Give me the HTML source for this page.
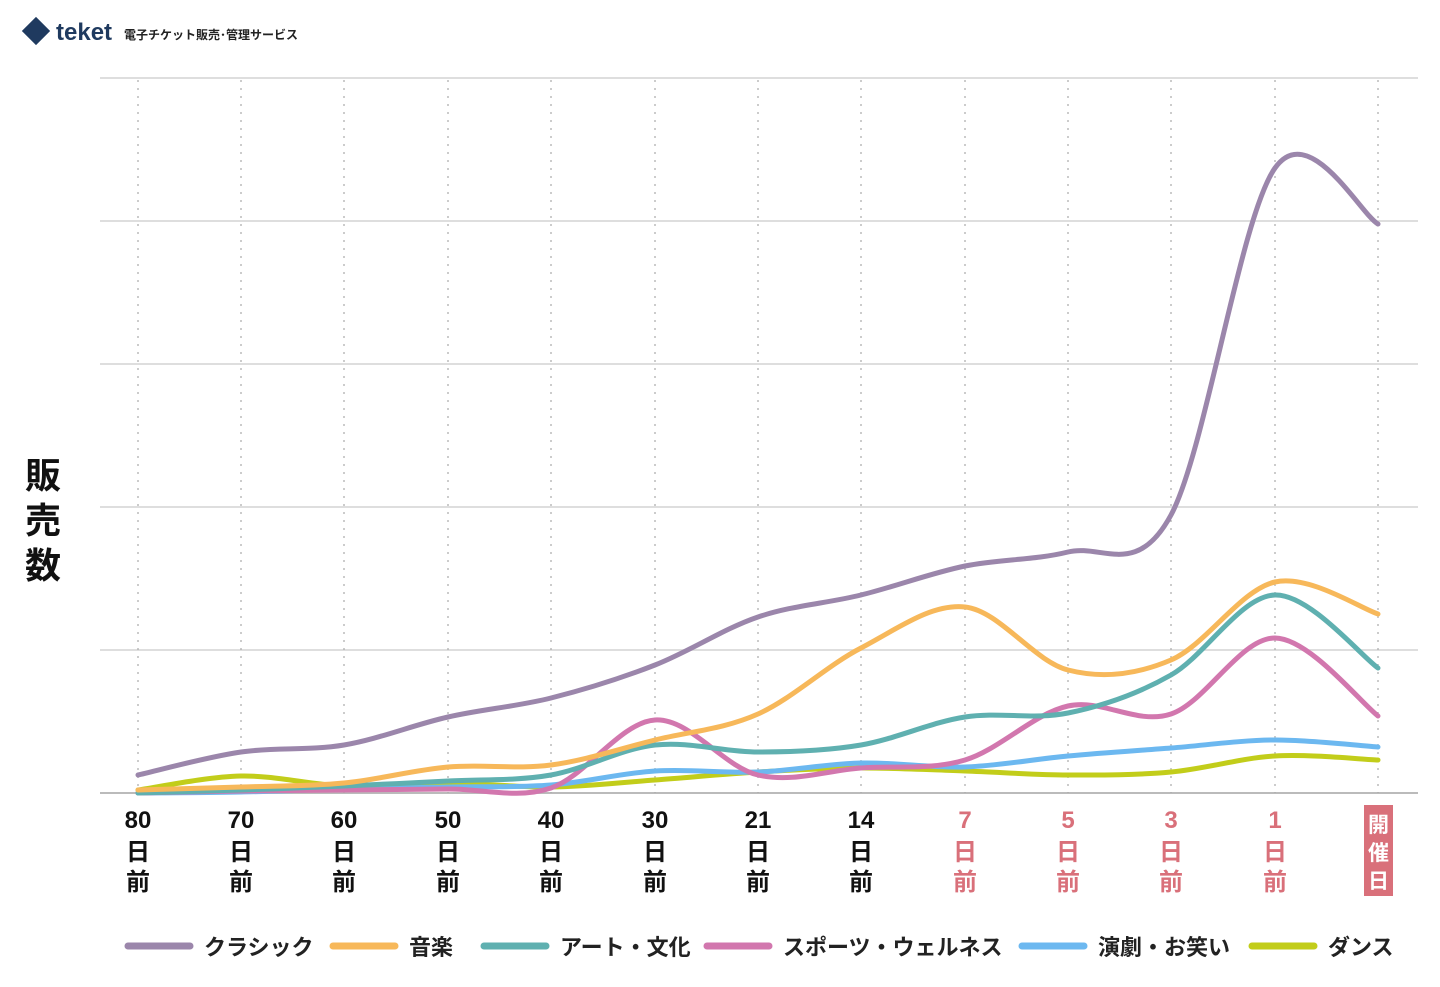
<!DOCTYPE html>
<html><head><meta charset="utf-8"><style>
body{margin:0;background:#fff;font-family:"Liberation Sans","Noto Sans CJK JP",sans-serif;}
</style></head><body>
<svg id="s" width="1440" height="982" xmlns="http://www.w3.org/2000/svg" font-family="Liberation Sans, Noto Sans CJK JP, sans-serif">
<g transform="translate(22,17)">
<rect x="4" y="4" width="20" height="20" fill="#1f3a5f" transform="rotate(45 14 14)"/>
<line x1="4" y1="22" x2="10" y2="28" stroke="#fff" stroke-width="2"/>
</g>
<text x="56" y="40" font-size="24" font-weight="bold" fill="#1f3a5f">teket</text>
<text x="124" y="39" font-size="12" font-weight="bold" fill="#222">電子チケット販売･管理サービス</text>
<g id="grid"></g>
<g font-size="36" font-weight="bold" fill="#111" text-anchor="middle">
<text x="43" y="488">販</text><text x="43" y="533">売</text><text x="43" y="578">数</text>
</g>
<g id="lab" font-size="24" font-weight="bold" text-anchor="middle"></g>
<g id="ser" fill="none" stroke-width="5" stroke-linecap="round"></g>
<g id="leg" font-size="22" font-weight="bold" fill="#222"></g>
</svg>
<script>
const NS="http://www.w3.org/2000/svg";
function el(p,t,a,txt){const e=document.createElementNS(NS,t);for(const k in a)e.setAttribute(k,a[k]);if(txt)e.textContent=txt;document.getElementById(p).appendChild(e);return e;}
const X=[138,241,344,448,551,655,758,861,965,1068,1171,1275,1378];
[78,221,364,507,650].forEach(y=>el("grid","line",{x1:100,x2:1418,y1:y,y2:y,stroke:"#d4d4d4","stroke-width":1.5}));
el("grid","line",{x1:100,x2:1418,y1:793,y2:793,stroke:"#bbb","stroke-width":2});
X.forEach(x=>el("grid","line",{x1:x,x2:x,y1:80,y2:793,stroke:"#aaa","stroke-width":1.2,"stroke-dasharray":"2,6"}));
const L=["80","70","60","50","40","30","21","14","7","5","3","1"];
L.forEach((l,i)=>{const c=i>=8?"#d9707a":"#111";
 el("lab","text",{x:X[i],y:828,fill:c},l);el("lab","text",{x:X[i],y:860,fill:c},"日");el("lab","text",{x:X[i],y:890,fill:c},"前");});
el("lab","rect",{x:1364,y:805,width:29,height:91,fill:"#d9707a"});
["開","催","日"].forEach((t,i)=>el("lab","text",{x:1378.5,y:832+i*28,fill:"#fff","font-size":21},t));
const S=[
["#c2cd1a",[790,776,786,783,787,780,772,768,771,775,772,756,760]],
["#6cb8f0",[793,792,789,787,785,771,772,763,767,756,748,740,747]],
["#d277ae",[793,791,790,789,788,720,775,768,760,706,714,638,716]],
["#5fb0b0",[793,790,786,781,775,745,752,745,717,713,675,595,668]],
["#f7b85a",[790,787,783,767,765,740,714,648,607,670,660,582,614]],
["#9b86ab",[775,752,745,717,698,665,617,595,566,552,515,168,224]]];
S.forEach(([c,Y])=>{const p=X.map((x,i)=>[x,Y[i]]);let d="M"+p[0];
 for(let i=0;i<p.length-1;i++){const a=p[Math.max(i-1,0)],b=p[i],q=p[i+1],r=p[Math.min(i+2,p.length-1)];
 d+=" C"+(b[0]+(q[0]-a[0])/6)+","+(b[1]+(q[1]-a[1])/6)+" "+(q[0]-(r[0]-b[0])/6)+","+(q[1]-(r[1]-b[1])/6)+" "+q;}
 el("ser","path",{d:d,stroke:c});});
const G=[["#9b86ab","クラシック",128],["#f7b85a","音楽",333],["#5fb0b0","アート・文化",484],["#d277ae","スポーツ・ウェルネス",707],["#6cb8f0","演劇・お笑い",1022],["#c2cd1a","ダンス",1252]];
G.forEach(([c,t,x])=>{el("leg","line",{x1:x,x2:x+62,y1:946,y2:946,stroke:c,"stroke-width":7,"stroke-linecap":"round"});
 el("leg","text",{x:x+76,y:955},t);});
</script>
</body></html>
